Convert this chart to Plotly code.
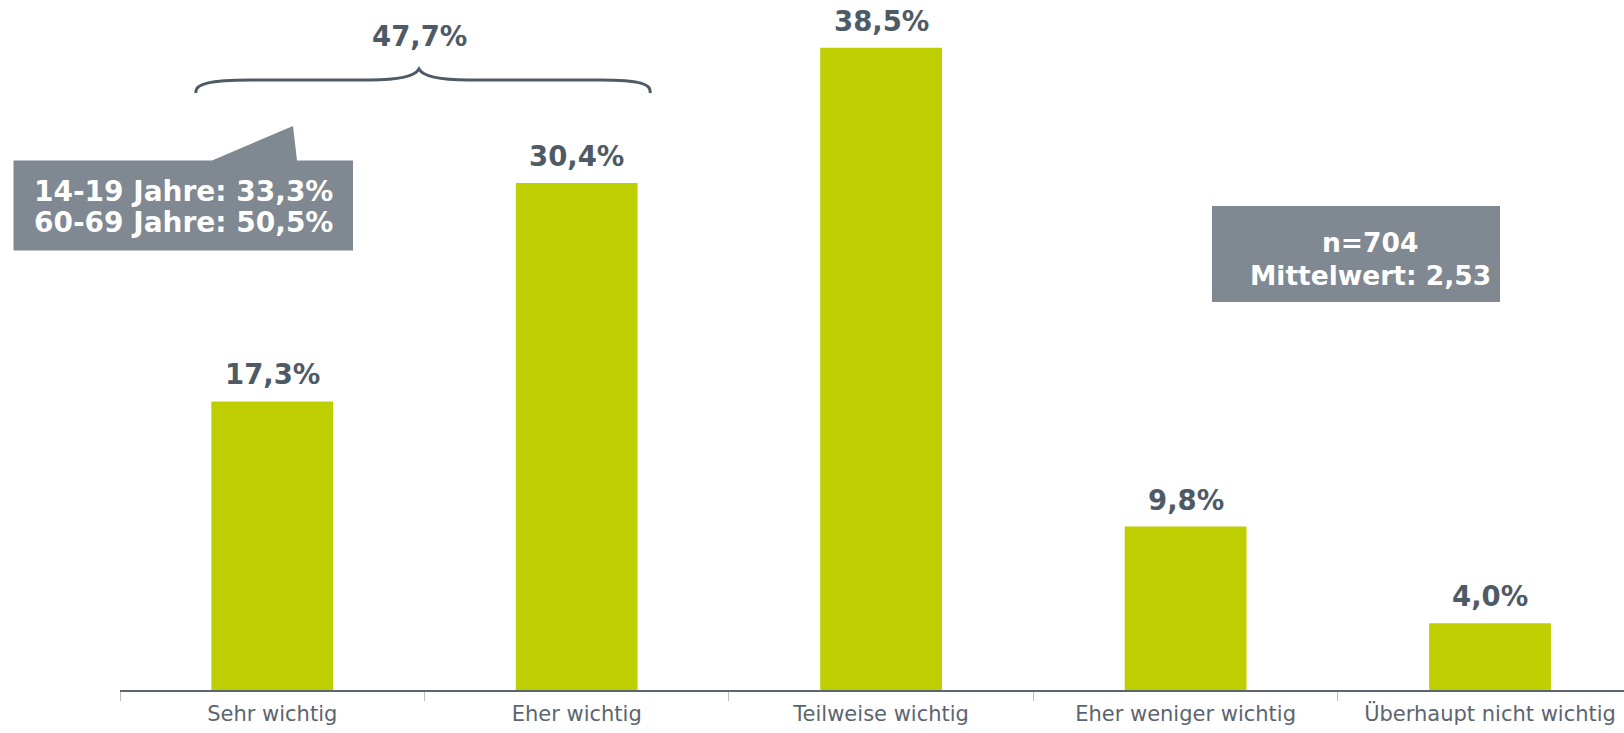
import plotly.graph_objects as go

# Survey answers and shares (%)
categories = ["Sehr wichtig", "Eher wichtig", "Teilweise wichtig",
              "Eher weniger wichtig", "Überhaupt nicht wichtig"]
shares = [17.3, 30.4, 38.5, 9.8, 4.0]

age_notes = ["14-19 Jahre: 33,3%", "60-69 Jahre: 50,5%"]
sample_notes = ["n=704", "Mittelwert: 2,53"]

BAR = "#BFCE00"
LABEL = "#4E5B67"
AXIS_TEXT = "#5B6570"
BOX = "#808891"

W, H = 1624, 733
ML, MB = 120, 43
PLOT_W, PLOT_H = W - ML, H - MB


def fmt(v):
    return f"{v:.1f}".replace(".", ",") + "%"


def px_x(px):
    return (px - ML) / PLOT_W


def px_y(py):
    return (PLOT_H - py) / PLOT_H


fig = go.Figure(go.Bar(
    x=categories, y=shares, width=0.4,
    marker=dict(color=BAR, line=dict(width=0)),
    hoverinfo="skip",
))

annotations = []
for c, v in zip(categories, shares):
    annotations.append(dict(
        x=c, y=v, xref="x", yref="y", text=f"<b>{fmt(v)}</b>",
        showarrow=False, yanchor="middle", yshift=27,
        font=dict(family="DejaVu Sans", size=27.5, color=LABEL),
    ))

# Combined share of the two top answers, shown above a curly brace
top_two = shares[0] + shares[1]
annotations.append(dict(
    x=px_x(419), y=px_y(36), xref="paper", yref="paper",
    text=f"<b>{fmt(top_two)}</b>", showarrow=False,
    xanchor="center", yanchor="middle",
    font=dict(family="DejaVu Sans", size=27.5, color=LABEL),
))

# Callout text lines
for i, t in enumerate(age_notes):
    annotations.append(dict(
        x=px_x(183), y=px_y(191 + 32 * i), xref="paper", yref="paper",
        text=f"<b>{t}</b>", showarrow=False,
        xanchor="center", yanchor="middle",
        font=dict(family="DejaVu Sans", size=28, color="white"),
    ))

for i, t in enumerate(sample_notes):
    annotations.append(dict(
        x=px_x(1370), y=px_y(243 + 32 * i), xref="paper", yref="paper",
        text=f"<b>{t}</b>", showarrow=False,
        xanchor="center", yanchor="middle",
        font=dict(family="DejaVu Sans", size=26.5, color="white"),
    ))


def path_px(points, close=True):
    s = "M " + " L ".join(f"{px_x(x):.5f},{px_y(y):.5f}" for x, y in points)
    return s + (" Z" if close else "")


shapes = []
# Callout box with a pointer tail
shapes.append(dict(
    type="path", xref="paper", yref="paper", layer="above",
    path=path_px([(13.5, 160.5), (212, 160.5), (293, 126), (297, 160.5),
                  (353, 160.5), (353, 250.5), (13.5, 250.5)]),
    fillcolor=BOX, line=dict(width=0),
))
# Sample box
shapes.append(dict(
    type="rect", xref="paper", yref="paper", layer="above",
    x0=px_x(1212), x1=px_x(1500), y0=px_y(206), y1=px_y(302),
    fillcolor=BOX, line=dict(width=0),
))

# Curly brace (cubic curves, in paper coords)
def P(x, y):
    return f"{px_x(x):.5f},{px_y(y):.5f}"


brace = (
    f"M {P(196, 93)} C {P(194, 84)}, {P(210, 80)}, {P(250, 80)} "
    f"L {P(370, 80)} C {P(400, 80)}, {P(415, 76)}, {P(419, 69)} "
    f"C {P(423, 76)}, {P(438, 80)}, {P(468, 80)} "
    f"L {P(600, 80)} C {P(640, 80)}, {P(652, 84)}, {P(650, 93)}"
)
shapes.append(dict(
    type="path", xref="paper", yref="paper", layer="above",
    path=brace, line=dict(color=LABEL, width=3),
))

fig.update_layout(
    width=W, height=H,
    margin=dict(l=ML, r=0, t=0, b=MB, pad=0),
    paper_bgcolor="white", plot_bgcolor="white",
    showlegend=False,
    annotations=annotations, shapes=shapes,
    xaxis=dict(
        type="category", range=[-0.5, 4.44],
        showgrid=False, zeroline=False,
        showline=True, linecolor="#5B6570", linewidth=1.5,
        ticks="outside", tickson="boundaries", ticklen=9,
        tickcolor="#BFBFBF", tickwidth=1,
        ticklabelstandoff=4,
        tickfont=dict(family="DejaVu Sans", size=21, color=AXIS_TEXT),
    ),
    yaxis=dict(
        range=[0, PLOT_H / 16.68], visible=False,
        showgrid=False, zeroline=False,
    ),
)

fig.write_html("out.html")
